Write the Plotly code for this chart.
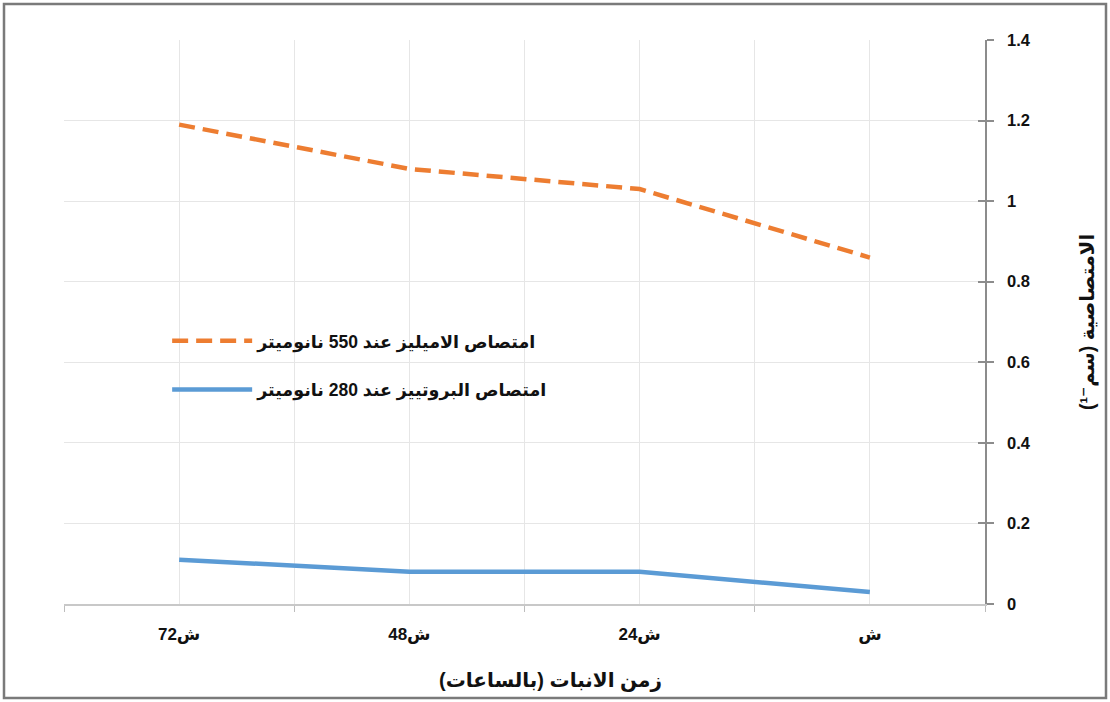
import plotly.graph_objects as go

# Germination time (hours) and their axis labels
hours = [72, 48, 24, 0]
hour_labels = ["72ش", "48ش", "24ش", "ش"]

# Absorbance readings
amylase_550 = [1.19, 1.08, 1.03, 0.86]
protease_280 = [0.11, 0.08, 0.08, 0.03]

name_amylase = "امتصاص الاميليز عند 550 نانوميتر"
name_protease = "امتصاص البروتييز عند 280 نانوميتر"
RLM = "\u200F"
x_title = "زمن الانبات (بالساعات)" + RLM
y_title = "الامتصاصية (سم⁻¹)" + RLM

y_ticks = [0, 0.2, 0.4, 0.6, 0.8, 1.0, 1.2, 1.4]
y_ticktext = ["0", "0.2", "0.4", "0.6", "0.8", "1", "1.2", "1.4"]

FONT = "Liberation Sans, DejaVu Sans, Arial, sans-serif"
GRID = "#e6e6e6"
AXIS = "#8c8c8c"

fig = go.Figure()
fig.add_trace(go.Scatter(
    x=hours, y=amylase_550, mode="lines", name=name_amylase,
    legendgroup="a",
    line=dict(color="#ED7D31", width=4.5, dash="16px,8px"),
))
fig.add_trace(go.Scatter(
    x=hours, y=protease_280, mode="lines", name=name_protease,
    legendgroup="b",
    line=dict(color="#5B9BD5", width=4.5),
))
# companion axis carrying the inner half of the y tick marks
fig.add_trace(go.Scatter(
    x=[hours[0]], y=[amylase_550[0]], yaxis="y2", mode="markers",
    marker=dict(opacity=0), showlegend=False, hoverinfo="skip",
))

fig.update_layout(
    width=1110, height=702,
    margin=dict(l=64, r=125, t=40, b=98),
    paper_bgcolor="white", plot_bgcolor="white",
    font=dict(family=FONT, size=15, color="#111111", weight="bold"),
    showlegend=True,
    legend=dict(
        x=0.112, y=0.423, xanchor="left", yanchor="middle",
        bgcolor="rgba(0,0,0,0)", itemwidth=80,
        tracegroupgap=23, traceorder="grouped",
        font=dict(family=FONT, size=17.5, color="#111111", weight="bold"),
    ),
    xaxis=dict(
        range=[84, -12], autorange=False,
        tickmode="array", tickvals=hours, ticktext=hour_labels,
        ticks="", ticklabelstandoff=14,
        tickfont=dict(family=FONT, size=17, color="#111111", weight="bold"),
        showgrid=True, gridcolor=GRID, gridwidth=1,
        showline=True, linecolor="#c8c8c8", linewidth=1.5,
        zeroline=False,
        minor=dict(
            tickmode="array", tickvals=[84, 60, 36, 12, -12],
            ticks="outside", ticklen=6, tickcolor="#bdbdbd", tickwidth=1,
            showgrid=True, gridcolor=GRID, gridwidth=1,
        ),
    ),
    yaxis=dict(
        range=[0, 1.4], autorange=False, side="right",
        tickmode="array", tickvals=y_ticks, ticktext=y_ticktext,
        ticks="outside", ticklen=7, tickcolor=AXIS, tickwidth=1.5,
        ticklabelstandoff=10,
        tickfont=dict(family=FONT, size=16.5, color="#111111", weight="bold"),
        showgrid=True, gridcolor=GRID, gridwidth=1,
        showline=True, linecolor=AXIS, linewidth=1.5,
        zeroline=False,
    ),
    yaxis2=dict(
        range=[0, 1.4], autorange=False, overlaying="y", side="right",
        anchor="x",
        tickmode="array", tickvals=y_ticks,
        ticks="inside", ticklen=7, tickcolor=AXIS, tickwidth=1.5,
        showticklabels=False, showgrid=False, showline=False, zeroline=False,
    ),
    annotations=[
        dict(
            text=x_title, xref="paper", yref="paper",
            x=(550 - 64) / 921, y=(604 - 680) / 564,
            xanchor="center", yanchor="middle", showarrow=False,
            font=dict(family=FONT, size=20, color="#111111", weight="bold"),
        ),
        dict(
            text=y_title, xref="paper", yref="paper",
            x=(1087 - 64) / 921, y=(604 - 322) / 564,
            xanchor="center", yanchor="middle", showarrow=False,
            textangle=-90,
            font=dict(family=FONT, size=19.5, color="#111111", weight="bold"),
        ),
    ],
    shapes=[
        dict(
            type="rect", xref="paper", yref="paper",
            x0=(4 - 64) / 921, x1=(1106 - 64) / 921,
            y0=(604 - 698) / 564, y1=(604 - 4) / 564,
            line=dict(color="#7a7a7a", width=2.5), fillcolor="rgba(0,0,0,0)",
            layer="below",
        ),
    ],
)

fig.write_html("out.html")
